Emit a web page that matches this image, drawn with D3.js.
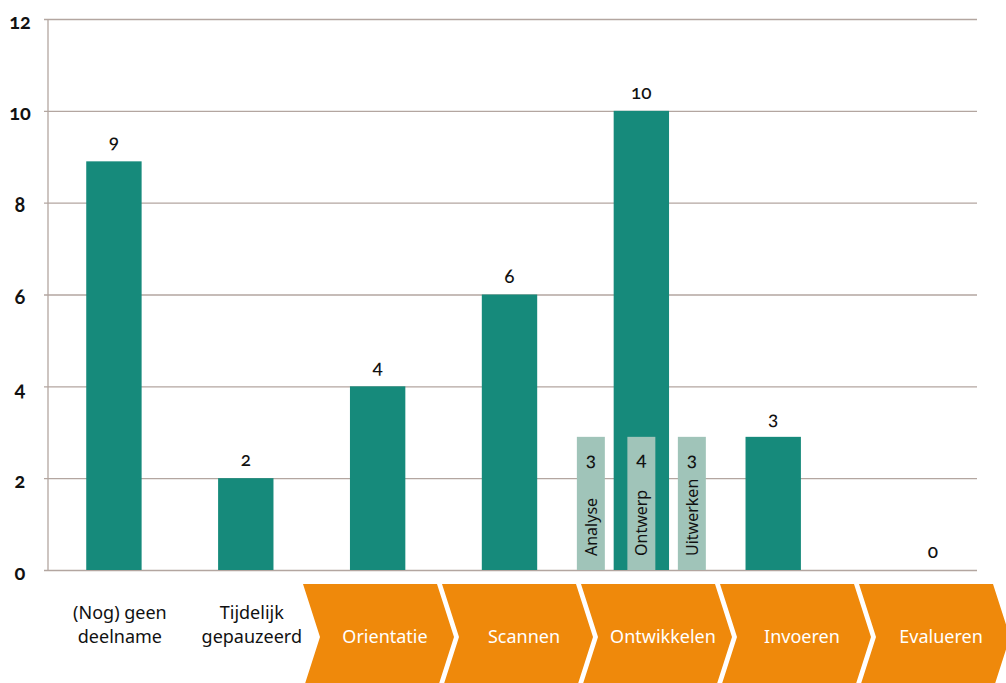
<!DOCTYPE html>
<html>
<head>
<meta charset="utf-8">
<script src="https://cdn.jsdelivr.net/npm/d3@7"></script>
<style>
  html, body { margin: 0; padding: 0; background: #fff; }
  svg { display: block; }
  .num { font-family: Lato, "Noto Sans", sans-serif; font-variant-numeric: oldstyle-nums; font-feature-settings: "onum" 1; }
  .txt { font-family: "Noto Sans", "Open Sans", sans-serif; }
</style>
</head>
<body>
<svg id="chart" width="1006" height="683"></svg>
<script>
// ---- data ----
const categories = ["(Nog) geen deelname", "Tijdelijk gepauzeerd", "Orientatie", "Scannen", "Ontwikkelen", "Invoeren", "Evalueren"];
const categoryLines = [["(Nog) geen", "deelname"], ["Tijdelijk", "gepauzeerd"]];
const values = [8.9, 2, 4, 6, 10, 2.9, 0];
const valueLabels = ["9", "2", "4", "6", "10", "3", "0"];
const subCategories = ["Analyse", "Ontwerp", "Uitwerken"];
const subValues = [2.9, 2.9, 2.9];
const subLabels = ["3", "4", "3"];
const phases = ["Orientatie", "Scannen", "Ontwikkelen", "Invoeren", "Evalueren"];
const yTicks = [0, 2, 4, 6, 8, 10, 12];

// ---- layout ----
const svg = d3.select("#chart");
const mLeft = 48, mRight = 971, gridRight = 977, mTop = 19, mBottom = 570;
const teal = "#168a7b", light = "#a0c4b9", orange = "#ef890b", gridCol = "#b3a6a0";

const x = d3.scaleBand().domain(categories).range([mLeft, mRight]).paddingInner(0.58).paddingOuter(0.29);
const y = d3.scaleLinear().domain([0, 12]).range([mBottom, mTop]);

// gridlines + y axis
const yAxis = d3.axisLeft(y).tickValues(yTicks).tickSize(gridRight - mLeft + 4).tickFormat(d3.format("d"));
const ga = svg.append("g").attr("transform", `translate(${gridRight},0)`).call(yAxis);
ga.select(".domain").remove();
ga.selectAll(".tick line").attr("stroke", gridCol).attr("stroke-width", 1.3);
ga.selectAll(".tick text")
  .attr("class", "num")
  .attr("x", 20 - gridRight)
  .attr("dy", "0.45em")
  .attr("text-anchor", "middle")
  .attr("fill", "#111")
  .style("font-size", "20px")
  .style("font-weight", "700");
svg.append("line").attr("x1", mLeft).attr("x2", mLeft).attr("y1", mTop).attr("y2", mBottom)
  .attr("stroke", gridCol).attr("stroke-width", 1.3);

// main bars
svg.append("g").selectAll("rect").data(categories).join("rect")
  .attr("x", d => x(d)).attr("width", x.bandwidth())
  .attr("y", (d, i) => y(values[i])).attr("height", (d, i) => y(0) - y(values[i]))
  .attr("fill", teal);

svg.append("g").selectAll("text").data(categories).join("text")
  .attr("class", "num")
  .attr("x", (d, i) => x(d) + x.bandwidth() / 2 + (values[i] === 0 ? x.bandwidth() / 2 : 0))
  .attr("y", (d, i) => y(values[i]) - 12)
  .attr("text-anchor", "middle")
  .attr("fill", "#111")
  .style("font-size", "19px")
  .style("font-weight", "500")
  .text((d, i) => valueLabels[i]);

// sub bars within "Ontwikkelen"
const cx = x("Ontwikkelen") + x.bandwidth() / 2;
const subStep = 50.5;
const xs = d3.scaleBand().domain(subCategories).range([cx - 1.5 * subStep, cx + 1.5 * subStep])
  .paddingInner(0.446).paddingOuter(0.223);
const sg = svg.append("g");
sg.selectAll("rect").data(subCategories).join("rect")
  .attr("x", d => xs(d)).attr("width", xs.bandwidth())
  .attr("y", (d, i) => y(subValues[i])).attr("height", (d, i) => y(0) - y(subValues[i]))
  .attr("fill", light);
sg.selectAll("text.sv").data(subCategories).join("text")
  .attr("class", "num sv")
  .attr("x", d => xs(d) + xs.bandwidth() / 2)
  .attr("y", (d, i) => y(subValues[i]) + 29)
  .attr("text-anchor", "middle")
  .attr("fill", "#111")
  .style("font-size", "19px")
  .style("font-weight", "500")
  .text((d, i) => subLabels[i]);
sg.selectAll("text.sn").data(subCategories).join("text")
  .attr("class", "txt sn")
  .attr("transform", d => `translate(${xs(d) + xs.bandwidth() / 2 + 6},${y(0) - 14}) rotate(-90)`)
  .attr("text-anchor", "start")
  .attr("fill", "#111")
  .style("font-size", "16px")
  .text(d => d);

// category labels for first two
svg.append("g").selectAll("text").data(categoryLines).join("text")
  .attr("class", "txt")
  .attr("text-anchor", "middle")
  .attr("fill", "#111")
  .style("font-size", "18px")
  .each(function(lines, i) {
    const t = d3.select(this);
    const cxx = x(categories[i]) + x.bandwidth() / 2 + 6;
    lines.forEach((l, j) => t.append("tspan").attr("x", cxx).attr("y", 619 + j * 24).text(l));
  });

// chevrons
const xc = d3.scaleBand().domain(phases).range([303, 303 + 5 * 139]);
const cTop = 584, cMid = 637, cBot = 690, notch = 17, body = 134;
const cg = svg.append("g");
cg.selectAll("path").data(phases).join("path")
  .attr("d", d => {
    const x0 = xc(d);
    return `M${x0},${cTop} L${x0 + body},${cTop} L${x0 + body + notch},${cMid} L${x0 + body},${cBot} L${x0},${cBot} L${x0 + notch},${cMid} Z`;
  })
  .attr("fill", orange);
cg.selectAll("text").data(phases).join("text")
  .attr("class", "txt")
  .attr("x", d => xc(d) + (notch + body + notch) / 2 - 2)
  .attr("y", cMid + 6)
  .attr("text-anchor", "middle")
  .attr("fill", "#fff")
  .style("font-size", "18px")
  .text(d => d);
</script>
</body>
</html>
